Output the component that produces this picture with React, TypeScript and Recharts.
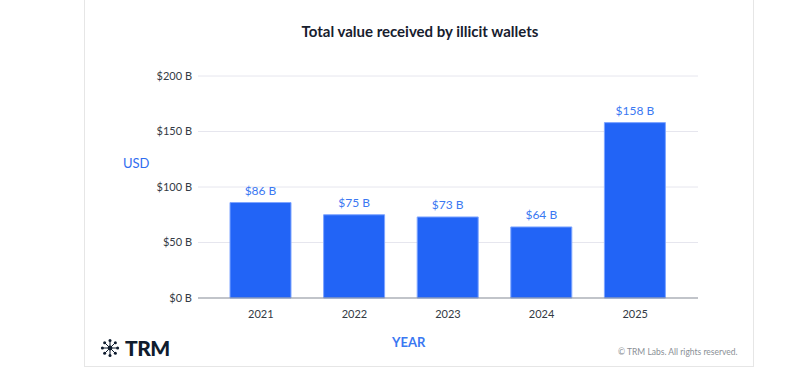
import { BarChart, Bar, XAxis, YAxis, CartesianGrid, LabelList } from 'recharts';

const years = ['2021', '2022', '2023', '2024', '2025'];
const values = [86, 75, 73, 64, 158];
const yTicks = [0, 50, 100, 150, 200];

const data = years.map((year, i) => ({ year, value: values[i] }));

const BLUE = '#2264f6';
const FONT = 'Lato, "Open Sans", sans-serif';

function TrmIcon() {
  const spokes = [0, 45, 90, 135, 180, 225, 270, 315];
  return (
    <svg width={20} height={20} viewBox="-10 -10 20 20">
      {spokes.map((a) => {
        const r = (a * Math.PI) / 180;
        const x = Math.cos(r) * 7.6;
        const y = Math.sin(r) * 7.6;
        return (
          <g key={a}>
            <line x1={0} y1={0} x2={x} y2={y} stroke="#0f1c2e" strokeWidth={1} />
            <circle cx={x} cy={y} r={1.5} fill="#0f1c2e" />
          </g>
        );
      })}
      <circle cx={0} cy={0} r={2.4} fill="#0f1c2e" />
    </svg>
  );
}

export default function App() {
  return (
    <div style={{ position: 'absolute', left: 0, top: 0, width: 789, height: 389, background: '#fff', fontFamily: FONT }}>
      {/* card */}
      <div
        style={{
          position: 'absolute',
          left: 84,
          top: -10,
          width: 670,
          height: 377,
          border: '1px solid #e6e6e6',
          boxSizing: 'border-box',
        }}
      />
      <div
        style={{
          position: 'absolute',
          left: 0,
          width: 840,
          top: 22,
          textAlign: 'center',
          fontSize: 15,
          fontWeight: 700,
          color: '#17202e',
        }}
      >
        Total value received by illicit wallets
      </div>

      <BarChart
        width={789}
        height={389}
        data={data}
        margin={{ top: 76, right: 91, bottom: 61, left: 138 }}
        style={{ position: 'absolute', left: 0, top: 0 }}
      >
        <CartesianGrid vertical={false} stroke="#e6e6ee" />
        <XAxis
          dataKey="year"
          padding={{ left: 16, right: 16 }}
          tickLine={false}
          axisLine={{ stroke: '#8f959c' }}
          tickMargin={6}
          tick={{ fontSize: 11, fill: '#333a44', fontFamily: FONT }}
        />
        <YAxis
          width={60}
          domain={[0, 200]}
          ticks={yTicks}
          tickLine={false}
          axisLine={false}
          tickMargin={0}
          tickFormatter={(v) => `$${v} B`}
          tick={{ fontSize: 11, fill: '#333a44', fontFamily: FONT }}
        />
        <Bar dataKey="value" fill={BLUE} stroke="#7ea5ff" strokeWidth={1} barSize={61} isAnimationActive={false}>
          <LabelList
            dataKey="value"
            position="top"
            offset={8}
            formatter={(v: any) => `$${v} B`}
            style={{ fontSize: 12, fill: '#3a78f2', fontFamily: FONT }}
          />
        </Bar>
      </BarChart>

      <div style={{ position: 'absolute', left: 123, top: 155, fontSize: 13, color: '#2f6df0' }}>USD</div>
      <div style={{ position: 'absolute', left: 392, top: 334, fontSize: 13, fontWeight: 700, color: '#3a78f2' }}>YEAR</div>

      <div style={{ position: 'absolute', left: 100, top: 335, display: 'flex', alignItems: 'center', gap: 5 }}>
        <TrmIcon />
        <span style={{ fontSize: 21, fontWeight: 900, color: '#0f1c2e', letterSpacing: -0.5 }}>TRM</span>
      </div>

      <div style={{ position: 'absolute', left: 618, top: 347, fontSize: 8.5, color: '#8a8f96' }}>
        © TRM Labs. All rights reserved.
      </div>
    </div>
  );
}
